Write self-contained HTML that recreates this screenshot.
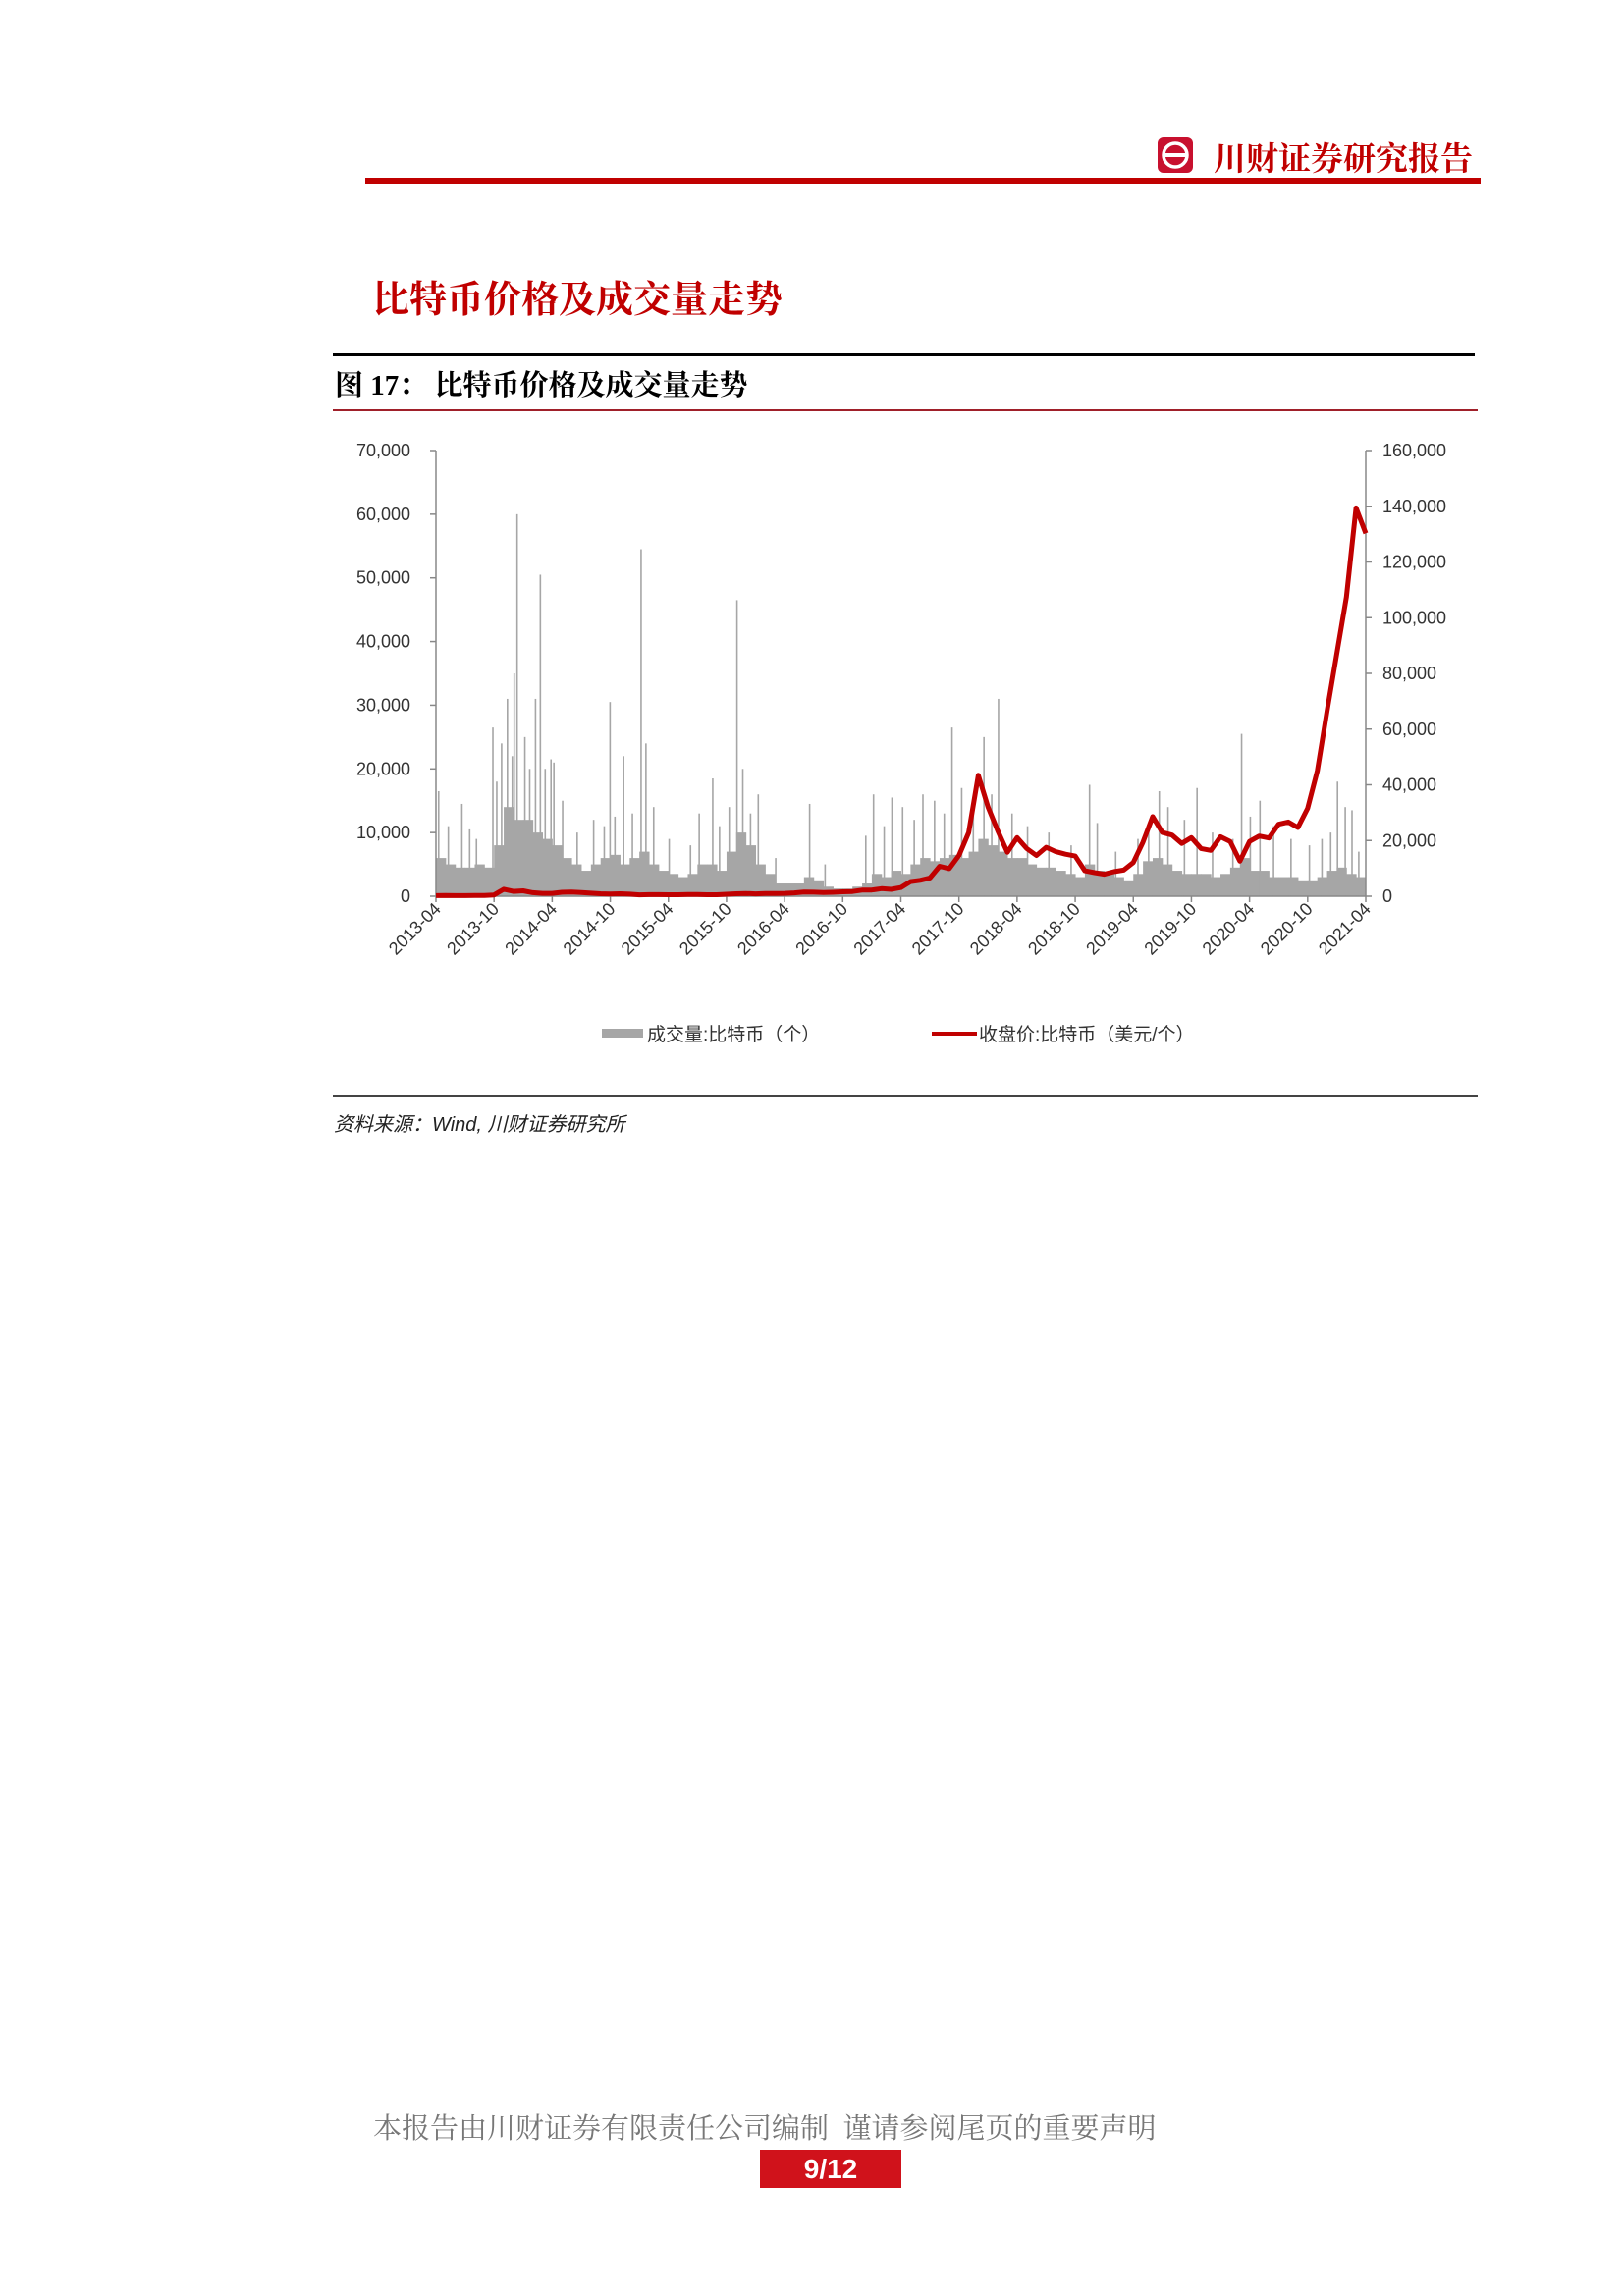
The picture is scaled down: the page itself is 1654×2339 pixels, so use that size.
<!DOCTYPE html>
<html><head><meta charset="utf-8">
<style>
body{margin:0;background:#fff;}
#page{position:relative;width:1654px;height:2339px;overflow:hidden;background:#fff;font-family:"Liberation Sans","Noto Sans CJK SC",sans-serif;}
.abs{position:absolute;white-space:nowrap;}
.kai{font-family:"Liberation Serif","Noto Serif CJK SC",serif;}
</style></head>
<body>
<div id="page">
  <div class="abs" style="left:1179px;top:140px;width:36px;height:36px;background:#c8102e;border-radius:6px;">
    <svg width="36" height="36" viewBox="0 0 36 36"><circle cx="18" cy="18" r="12" fill="none" stroke="#fff" stroke-width="3.5"/><rect x="7" y="16" width="22" height="4" fill="#fff"/></svg>
  </div>
  <div class="abs kai" style="left:1236px;top:136px;font-size:33px;font-weight:bold;color:#c00000;">川财证券研究报告</div>
  <div class="abs" style="left:372px;top:181px;width:1136px;height:6px;background:#c00000;"></div>

  <div class="abs kai" style="left:379px;top:274px;font-size:38px;font-weight:bold;color:#c00000;">比特币价格及成交量走势</div>

  <div class="abs" style="left:339px;top:360px;width:1163px;height:3px;background:#000;"></div>
  <div class="abs kai" style="left:341px;top:370px;font-size:29px;font-weight:bold;color:#000;">图 17：&nbsp;比特币价格及成交量走势</div>
  <div class="abs" style="left:339px;top:417px;width:1166px;height:2px;background:#a0202a;"></div>

  <svg id="chart" class="abs" style="left:0;top:0;" width="1654" height="1200"></svg>

  <div class="abs" style="left:613px;top:1039px;font-size:19px;color:#333;">
    <span style="display:inline-block;width:42px;height:9px;background:#a6a6a6;vertical-align:middle;"></span><span style="vertical-align:middle;margin-left:4px;">成交量:比特币（个）</span>
  </div>
  <div class="abs" style="left:949px;top:1039px;font-size:19px;color:#333;">
    <span style="display:inline-block;width:46px;height:4px;background:#c00000;vertical-align:middle;"></span><span style="vertical-align:middle;margin-left:2px;">收盘价:比特币（美元/个）</span>
  </div>

  <div class="abs" style="left:339px;top:1116px;width:1166px;height:2px;background:#444;"></div>
  <div class="abs" style="left:340px;top:1129px;font-size:20px;font-style:italic;color:#222;">资料来源：Wind, 川财证券研究所</div>

  <div class="abs kai" style="left:380px;top:2146px;font-size:29px;color:#777;">本报告由川财证券有限责任公司编制&nbsp;&nbsp;谨请参阅尾页的重要声明</div>
  <div class="abs" style="left:774px;top:2190px;width:144px;height:39px;background:#d0121b;color:#fff;font-size:28px;font-weight:bold;text-align:center;line-height:39px;">9/12</div>
</div>
<script>
const yTicks=[0,10000,20000,30000,40000,50000,60000,70000];
const yTickLabels=["0","10,000","20,000","30,000","40,000","50,000","60,000","70,000"];
const y2TickLabels=["0","20,000","40,000","60,000","80,000","100,000","120,000","140,000","160,000"];
const xTickLabels=["2013-04","2013-10","2014-04","2014-10","2015-04","2015-10","2016-04","2016-10","2017-04","2017-10","2018-04","2018-10","2019-04","2019-10","2020-04","2020-10","2021-04"];
const volumeMonthly=[6000,5000,4500,4500,5000,4500,8000,14000,12000,
12000,10000,9000,8000,6000,5000,4000,5000,6000,6500,5000,6000,
7000,5000,4000,3500,3000,3500,5000,5000,4000,7000,10000,8000,
5000,3500,2000,2000,2000,3000,2500,1500,1200,1200,1500,2000,
3500,3000,4000,3500,5000,6000,5500,6000,6500,6000,7000,9000,
8000,7000,6000,6000,5000,4500,4500,4000,3500,3000,5000,4000,
3500,3000,2500,3500,5500,6000,5000,4000,3500,3500,3500,3000,
3500,4500,6000,4000,4000,3000,3000,3000,2500,2500,3000,4000,
4500,3500,3000];
const spikeMonths=[0.2,2.6,5.8,6.7,7.3,8.0,8.3,10.2,10.7,11.8,12.1,17.9,19.3,21.1,21.6,27.1,28.5,31,33.2,38.5,45.1,47,50.2,53.2,56.5,58,67.4,74.6,78.5,83.1,85,93,93.8,94.5,
1.2,3.4,4.1,6.2,7.8,9.1,9.6,11.2,13.0,14.5,16.2,17.3,18.4,20.2,22.4,24.0,26.2,29.2,30.2,31.6,32.4,35.0,40.1,44.3,46.2,48.1,49.3,51.4,52.4,54.2,55.4,57.3,59.4,61.0,63.2,65.5,68.2,70.1,72.4,73.5,75.5,77.2,80.1,82.2,84.0,86.4,88.2,90.1,91.4,92.3,95.2];
const spikeValues=[16500,14500,26500,24000,31000,35000,60000,31000,50500,21500,21000,30500,22000,54500,24000,13000,18500,46500,16000,14500,16000,15500,16000,26500,25000,31000,17500,16500,17000,25500,15000,18000,14000,13500,
11000,10500,9000,18000,22000,25000,20000,20000,15000,10000,12000,11000,12500,13000,14000,9000,8000,11000,14000,20000,13000,6000,5000,9500,11000,14000,12000,15000,13000,17000,14000,16000,13000,11000,10000,8000,11500,7000,9000,10500,14000,12000,10000,9000,12500,11000,9000,8000,9000,10000,7000];
const priceMonthly=[100,130,100,100,130,130,200,1100,750,
850,550,450,450,620,640,590,480,390,340,380,320,
220,250,245,235,230,260,285,230,236,310,380,430,
370,435,415,450,530,670,625,575,610,700,740,960,
970,1190,1080,1350,2300,2500,2870,4700,4340,6400,10000,19000,
14000,10300,6900,9200,7500,6400,7700,7000,6600,6300,4000,3700,
3450,3850,4100,5300,8500,12500,10000,9600,8300,9200,7500,7200,
9350,8600,5500,8600,9450,9150,11300,11650,10800,13800,19700,29000,
38000,47000,61000,57000];

const svg=document.getElementById('chart');
const NS='http://www.w3.org/2000/svg';
const X0=444,X1=1391,Y0=913,Y1=459,NM=96;
const xs=m=>X0+(X1-X0)*m/NM;
const ys=v=>Y0-(Y0-Y1)*v/70000;
function mk(tag,attrs){const e=document.createElementNS(NS,tag);for(const k in attrs)e.setAttribute(k,attrs[k]);svg.appendChild(e);return e;}
volumeMonthly.forEach((v,i)=>{
  const e=mk('rect',{x:xs(i),y:ys(v),width:(X1-X0)/NM+0.5,height:Y0-ys(v),fill:'#a6a6a6'});
  
  
});
spikeMonths.forEach((m,i)=>{
  const e=mk('rect',{x:xs(m),y:ys(spikeValues[i]),width:1.6,height:Y0-ys(spikeValues[i]),fill:'#a6a6a6'});
  
  
});
let a=mk('line',{x1:X0,y1:Y1,x2:X0,y2:Y0,stroke:'#888','stroke-width':1.5});

a=mk('line',{x1:X1,y1:Y1,x2:X1,y2:Y0,stroke:'#888','stroke-width':1.5});

a=mk('line',{x1:X0,y1:Y0,x2:X1,y2:Y0,stroke:'#888','stroke-width':1.5});

yTicks.forEach((v,i)=>{
  mk('line',{x1:X0-6,y1:ys(v),x2:X0,y2:ys(v),stroke:'#888','stroke-width':1.5});
  const t=mk('text',{x:418,y:ys(v)+6,'text-anchor':'end','font-size':18,fill:'#333','font-family':'Liberation Sans, sans-serif'});
  t.textContent=yTickLabels[i];
  
  
});
y2TickLabels.forEach((lab,i)=>{
  const y=Y0-(Y0-Y1)*i/8;
  mk('line',{x1:X1,y1:y,x2:X1+6,y2:y,stroke:'#888','stroke-width':1.5});
  const t=mk('text',{x:1408,y:y+6,'font-size':18,fill:'#333','font-family':'Liberation Sans, sans-serif'});
  t.textContent=lab;
  
  
});
xTickLabels.forEach((lab,i)=>{
  const x=xs(i*6);
  mk('line',{x1:x,y1:Y0,x2:x,y2:Y0+6,stroke:'#888','stroke-width':1.5});
  const t=mk('text',{x:x+6,y:Y0+14,'text-anchor':'end','font-size':18,fill:'#333','font-family':'Liberation Sans, sans-serif',transform:`rotate(-45 ${x+6} ${Y0+14})`});
  t.textContent=lab;
  
  
});
const pts=priceMonthly.map((v,i)=>xs(i).toFixed(1)+','+ys(v).toFixed(1)).join(' ');
const pl=mk('polyline',{points:pts,fill:'none',stroke:'#c00000','stroke-width':5,'stroke-linejoin':'round'});


</script>
</body></html>
